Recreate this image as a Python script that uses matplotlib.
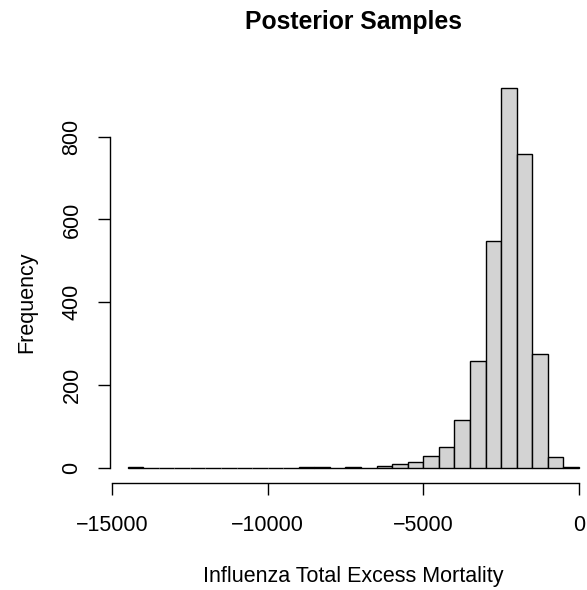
import matplotlib
matplotlib.use("Agg")
import matplotlib.pyplot as plt
import numpy as np

plt.rcParams['font.family'] = ['Liberation Sans', 'DejaVu Sans']

# histogram data
bin_start = -14500
bin_width = 500
counts = [1, 0, 0, 0, 0, 0, 0, 0, 0, 0, 0,
          1, 1, 0, 1, 0,
          5, 9, 14, 28, 51, 115, 257, 548, 918, 758, 274, 27, 2]
edges = bin_start + bin_width * np.arange(len(counts) + 1)

xticks = [-15000, -10000, -5000, 0]
yticks = [0, 200, 400, 600, 800]
title = "Posterior Samples"
xlabel = "Influenza Total Excess Mortality"
ylabel = "Frequency"

W, H = 587, 590
fig = plt.figure(figsize=(W / 100, H / 100), dpi=100)
left, right, bottom, top = 109.5, 597, 483, 72.7
ax = fig.add_axes([left / W, (H - bottom) / H, (right - left) / W, (bottom - top) / H])

ax.bar(edges[:-1], counts, width=bin_width, align='edge',
       facecolor='#D3D3D3', edgecolor='black', linewidth=1.0)

xmin, xmax = edges[0], edges[-1]
xr = xmax - xmin
ax.set_xlim(xmin - 0.04 * xr, xmax + 0.04 * xr)
ymax = max(counts)
ax.set_ylim(-0.04 * ymax, ymax * 1.04)

for s in ['top', 'right']:
    ax.spines[s].set_visible(False)
ax.spines['left'].set_bounds(yticks[0], yticks[-1])
ax.spines['bottom'].set_bounds(xticks[0], xticks[-1])
for s in ['left', 'bottom']:
    ax.spines[s].set_linewidth(1.0)

ax.set_xticks(xticks)
ax.set_yticks(yticks)
ax.set_xticklabels([f"{v}".replace('-', '\u2212') for v in xticks])
ax.set_yticklabels([str(v) for v in yticks], rotation=90, va='center')
ax.tick_params(axis='both', direction='out', length=8.6, width=1.0, labelsize=15.5)
ax.tick_params(axis='x', pad=14.2)
ax.tick_params(axis='y', pad=10.8)

cx = (left + right) / 2 / W
fig.text(cx, 1 - 28.5 / H, title, ha='center', va='baseline',
         fontsize=17.8, fontweight='bold')
fig.text(cx, 1 - 582 / H, xlabel, ha='center', va='baseline', fontsize=15.5)
fig.text(32 / W, 1 - (467.7 + 136.7) / 2 / H, ylabel, ha='center', va='baseline',
         rotation=90, rotation_mode='anchor', fontsize=15.5)

fig.savefig("out.png", dpi=100)
